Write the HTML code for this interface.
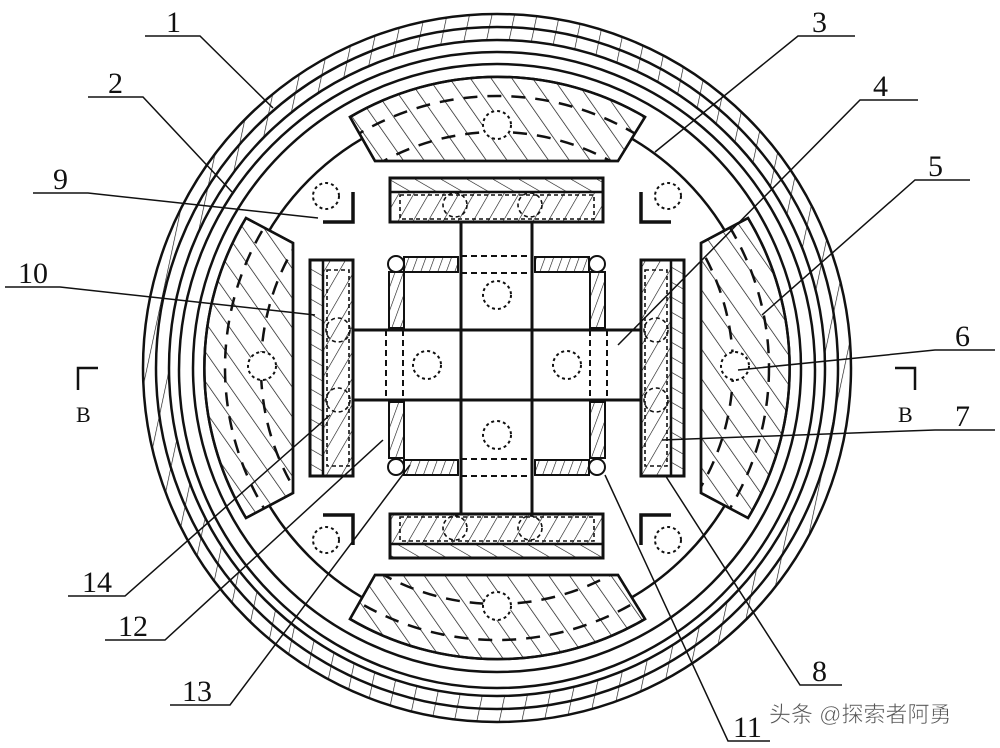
<!DOCTYPE html>
<html><head><meta charset="utf-8"><style>
html,body{margin:0;padding:0;background:#fff}
svg{display:block}
text{font-family:"Liberation Serif",serif;font-size:30px;fill:#111}
</style></head><body>
<svg width="1000" height="748" viewBox="0 0 1000 748" xmlns="http://www.w3.org/2000/svg">
<defs>
<pattern id="hb" patternUnits="userSpaceOnUse" width="17" height="17" patternTransform="rotate(-35)">
<line x1="0" y1="0" x2="0" y2="17" stroke="#111" stroke-width="1.4"/></pattern>
<pattern id="hr" patternUnits="userSpaceOnUse" width="22" height="22" patternTransform="rotate(12)">
<line x1="0" y1="0" x2="0" y2="22" stroke="#111" stroke-width="1.3"/></pattern>
<pattern id="hp1" patternUnits="userSpaceOnUse" width="13" height="13" patternTransform="rotate(-60)">
<line x1="0" y1="0" x2="0" y2="13" stroke="#111" stroke-width="1.2"/></pattern>
<pattern id="hp2" patternUnits="userSpaceOnUse" width="13" height="13" patternTransform="rotate(30)">
<line x1="0" y1="0" x2="0" y2="13" stroke="#111" stroke-width="1.2"/></pattern>
<clipPath id="blk">
<path d="M375,161 L350,117 A291,291 0 0 1 645,117 L618,161 Z"/>
<path d="M375,575 L350,619 A291,291 0 0 0 645,619 L618,575 Z"/>
<path d="M293,243 L246,218 A291,291 0 0 0 246,518 L293,493 Z"/>
<path d="M701,243 L748,218 A291,291 0 0 1 748,518 L701,493 Z"/>
</clipPath>
<pattern id="coil" patternUnits="userSpaceOnUse" width="8" height="8" patternTransform="rotate(20)">
<line x1="0" y1="0" x2="0" y2="8" stroke="#111" stroke-width="1.2"/></pattern>
</defs>

<g fill="none" stroke="#111">
<!-- outer rings -->
<path d="M497,368 m-354,0 a354,354 0 1 0 708,0 a354,354 0 1 0 -708,0 M497,368 m-328,0 a328,328 0 1 0 656,0 a328,328 0 1 0 -656,0" fill="url(#hr)" fill-rule="evenodd" stroke="none"/>
<circle cx="497" cy="368" r="354" stroke-width="2.5"/>
<circle cx="497" cy="368" r="341" stroke-width="2.5"/>
<circle cx="497" cy="368" r="328" stroke-width="2.5"/>
<circle cx="497" cy="370" r="318" stroke-width="2.5" fill="#fff"/>
<circle cx="497" cy="368" r="304" stroke-width="2.5"/>
<circle cx="497" cy="368" r="266" stroke-width="2.5"/>

<!-- blocks -->
<g stroke-width="2.5" fill="#fff">
<path d="M375,161 L350,117 A291,291 0 0 1 645,117 L618,161 Z"/>
<path d="M375,575 L350,619 A291,291 0 0 0 645,619 L618,575 Z"/>
<path d="M293,243 L246,218 A291,291 0 0 0 246,518 L293,493 Z"/>
<path d="M701,243 L748,218 A291,291 0 0 1 748,518 L701,493 Z"/>
</g>
<g clip-path="url(#blk)">
<rect x="200" y="60" width="600" height="620" fill="url(#hb)" stroke="none"/>
<circle cx="497" cy="368" r="272" stroke-width="2.5" stroke-dasharray="14,10"/>
<circle cx="497" cy="368" r="236" stroke-width="2.5" stroke-dasharray="14,10"/>
</g>
<g stroke-width="2.5">
<path d="M375,161 L350,117 A291,291 0 0 1 645,117 L618,161 Z"/>
<path d="M375,575 L350,619 A291,291 0 0 0 645,619 L618,575 Z"/>
<path d="M293,243 L246,218 A291,291 0 0 0 246,518 L293,493 Z"/>
<path d="M701,243 L748,218 A291,291 0 0 1 748,518 L701,493 Z"/>
</g>
<g stroke-width="2" stroke-dasharray="3,3" fill="#fff">
<circle cx="497" cy="125" r="14"/><circle cx="497" cy="606" r="14"/>
<circle cx="262" cy="366" r="14"/><circle cx="735" cy="366" r="14"/>
</g>

<!-- plates -->
<rect x="390" y="178" width="213" height="14" fill="url(#hp1)" stroke="none"/>
<rect x="390" y="192" width="213" height="30" fill="url(#hp2)" stroke="none"/>
<rect x="390" y="178" width="213" height="44" stroke-width="3"/>
<line x1="390" y1="192" x2="603" y2="192" stroke-width="2.5"/>
<rect x="390" y="514" width="213" height="30" fill="url(#hp2)" stroke="none"/>
<rect x="390" y="544" width="213" height="14" fill="url(#hp1)" stroke="none"/>
<rect x="390" y="514" width="213" height="44" stroke-width="3"/>
<line x1="390" y1="544" x2="603" y2="544" stroke-width="2.5"/>
<rect x="310" y="260" width="13" height="216" fill="url(#hp1)" stroke="none"/>
<rect x="323" y="260" width="30" height="216" fill="url(#hp2)" stroke="none"/>
<rect x="310" y="260" width="43" height="216" stroke-width="3"/>
<line x1="323" y1="260" x2="323" y2="476" stroke-width="2.5"/>
<rect x="641" y="260" width="30" height="216" fill="url(#hp2)" stroke="none"/>
<rect x="671" y="260" width="13" height="216" fill="url(#hp1)" stroke="none"/>
<rect x="641" y="260" width="43" height="216" stroke-width="3"/>
<line x1="671" y1="260" x2="671" y2="476" stroke-width="2.5"/>
<g stroke-width="1.6" stroke-dasharray="4,3">
<rect x="400" y="195" width="194" height="24"/><rect x="400" y="517" width="194" height="24"/>
<rect x="327" y="270" width="22" height="196"/><rect x="645" y="270" width="22" height="196"/>
<circle cx="455" cy="205" r="12"/><circle cx="530" cy="205" r="12"/>
<circle cx="455" cy="528" r="12"/><circle cx="530" cy="528" r="12"/>
<circle cx="338" cy="330" r="12"/><circle cx="338" cy="400" r="12"/>
<circle cx="656" cy="330" r="12"/><circle cx="656" cy="400" r="12"/>
</g>

<!-- corner L marks -->
<g stroke-width="3.5">
<path d="M353,192 V222 H323"/><path d="M641,192 V222 H671"/>
<path d="M353,545 V515 H323"/><path d="M641,545 V515 H671"/>
</g>
<g stroke-width="2" stroke-dasharray="3,3">
<circle cx="326" cy="196" r="13"/><circle cx="668" cy="196" r="13"/>
<circle cx="326" cy="540" r="13"/><circle cx="668" cy="540" r="13"/>
</g>

<!-- cross lines -->
<g stroke-width="3">
<line x1="461" y1="222" x2="461" y2="514"/><line x1="532" y1="222" x2="532" y2="514"/>
<line x1="353" y1="330" x2="641" y2="330"/><line x1="353" y1="400" x2="641" y2="400"/>
</g>
<g stroke-width="3" stroke-dasharray="8,6">
<line x1="461" y1="330" x2="532" y2="330"/><line x1="461" y1="400" x2="532" y2="400"/>
</g>
<g stroke-width="2" stroke-dasharray="6,4">
<line x1="461" y1="256" x2="532" y2="256"/><line x1="461" y1="273" x2="532" y2="273"/>
<line x1="461" y1="459" x2="532" y2="459"/><line x1="461" y1="476" x2="532" y2="476"/>
<line x1="386" y1="330" x2="386" y2="400"/><line x1="403" y1="330" x2="403" y2="400"/>
<line x1="590" y1="330" x2="590" y2="400"/><line x1="607" y1="330" x2="607" y2="400"/>
</g>
<g stroke-width="2" stroke-dasharray="3,3">
<circle cx="497" cy="295" r="14"/><circle cx="497" cy="435" r="14"/>
<circle cx="427" cy="365" r="14"/><circle cx="567" cy="365" r="14"/>
</g>

<!-- coils -->
<g stroke-width="2" fill="url(#coil)">
<rect x="404" y="257" width="54" height="15"/><rect x="535" y="257" width="54" height="15"/>
<rect x="404" y="460" width="54" height="15"/><rect x="535" y="460" width="54" height="15"/>
<rect x="389" y="272" width="15" height="56"/><rect x="389" y="402" width="15" height="56"/>
<rect x="590" y="272" width="15" height="56"/><rect x="590" y="402" width="15" height="56"/>
</g>
<g stroke-width="2" fill="#fff">
<circle cx="396" cy="264" r="8"/><circle cx="597" cy="264" r="8"/>
<circle cx="396" cy="467" r="8"/><circle cx="597" cy="467" r="8"/>
</g>

<!-- leaders -->
<g stroke-width="1.5">
<polyline points="145,36 200,36 273,108"/>
<polyline points="88,97 143,97 232,192"/>
<polyline points="33,193 88,193 318,218"/>
<polyline points="5,287 60,287 315,315"/>
<polyline points="855,36 798,36 655,152"/>
<polyline points="918,100 860,100 618,345"/>
<polyline points="970,180 915,180 762,315"/>
<polyline points="995,350 935,350 738,370"/>
<polyline points="995,430 935,430 662,440"/>
<polyline points="842,685 800,685 665,475"/>
<polyline points="770,741 728,741 605,475"/>
<polyline points="68,596 125,596 330,415"/>
<polyline points="105,640 165,640 383,440"/>
<polyline points="170,705 230,705 410,465"/>
</g>
<g stroke-width="2.5">
<polyline points="78,390 78,368 98,368"/>
<polyline points="915,390 915,368 895,368"/>
</g>
</g>

<text x="166" y="32">1</text>
<text x="108" y="93">2</text>
<text x="53" y="189">9</text>
<text x="18" y="283">10</text>
<text x="812" y="32">3</text>
<text x="873" y="96">4</text>
<text x="928" y="176">5</text>
<text x="955" y="346">6</text>
<text x="955" y="426">7</text>
<text x="812" y="681">8</text>
<text x="733" y="737">11</text>
<text x="82" y="592">14</text>
<text x="118" y="636">12</text>
<text x="182" y="701">13</text>
<text x="76" y="422" style="font-size:22px">B</text>
<text x="898" y="422" style="font-size:22px">B</text>
<text x="769" y="722" style="font-family:'Liberation Sans','Noto Sans CJK SC',sans-serif;font-size:22px;fill:#555;stroke:#fff;stroke-width:0.5">头条 @探索者阿勇</text>
</svg>
</body></html>
